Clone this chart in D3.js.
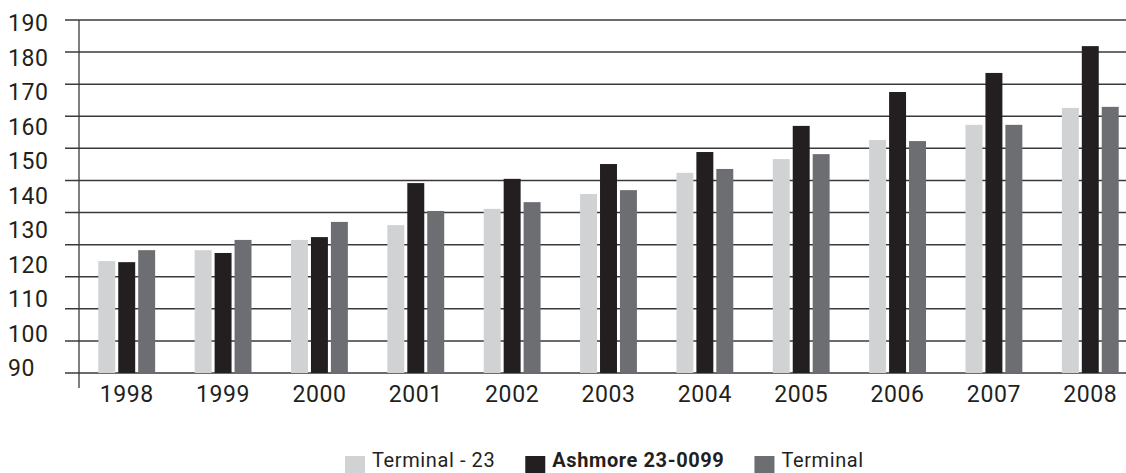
<!DOCTYPE html>
<html>
<head>
<meta charset="utf-8">
<script src="https://cdn.jsdelivr.net/npm/d3@7"></script>
<style>
  body { margin: 0; background: #fff; }
  text { font-family: Roboto, "Open Sans", sans-serif; fill: #231f20; }
</style>
</head>
<body>
<div id="graph"></div>
<script>
var years = ["1998", "1999", "2000", "2001", "2002", "2003", "2004", "2005", "2006", "2007", "2008"];
var seriesNames = ["Terminal - 23", "Ashmore 23-0099", "Terminal"];
var terminal23 = [121.7, 124.8, 127.7, 131.9, 136.5, 140.7, 146.7, 150.6, 156.0, 160.3, 165.1];
var ashmore = [121.4, 124.0, 128.5, 143.8, 145.0, 149.2, 152.6, 160.0, 169.6, 175.0, 182.6];
var terminal = [124.8, 127.7, 132.8, 135.9, 138.4, 141.8, 147.8, 152.0, 155.7, 160.3, 165.4];
var yTickLabels = ["90", "100", "110", "120", "130", "140", "150", "160", "170", "180", "190"];
var colors = ["#d1d2d4", "#231f20", "#6d6e71"];

var width = 1126, height = 473;
var svg = d3.select("div#graph").append("svg")
	.attr("width", width)
	.attr("height", height);

var seriesValues = [terminal23, ashmore, terminal];

// scales
var yScale = d3.scaleLinear().domain([90, 190]).range([373, 20]);
var gridScale = d3.scaleLinear().domain([0, 11]).range([373, 20]);
var labelScale = d3.scalePoint().domain(yTickLabels).range([368, 23]);
var x0 = d3.scaleBand().domain(years).range([85, 1132]).paddingInner(0.41).paddingOuter(0.138);
var x1 = d3.scaleBand().domain(seriesNames).range([0, x0.bandwidth()]).paddingInner(0.15);

// gridlines
svg.append("g").selectAll("line")
	.data(d3.range(12))
	.enter().append("line")
	.attr("x1", 65).attr("x2", width)
	.attr("y1", function(d) { return gridScale(d); })
	.attr("y2", function(d) { return gridScale(d); })
	.attr("stroke", "#3a3a3a")
	.attr("stroke-width", 1.5);

// vertical axis line
svg.append("line")
	.attr("x1", 79).attr("x2", 79)
	.attr("y1", 20).attr("y2", 388)
	.attr("stroke", "#3a3a3a")
	.attr("stroke-width", 1.3);

// y labels
svg.append("g").selectAll("text")
	.data(yTickLabels)
	.enter().append("text")
	.attr("x", 8)
	.attr("y", function(d) { return labelScale(d) + 8; })
	.attr("font-size", 23)
	.attr("letter-spacing", 0.6)
	.text(function(d) { return d; });

// bars
var groups = svg.append("g").selectAll("g")
	.data(years)
	.enter().append("g")
	.attr("transform", function(d) { return "translate(" + x0(d) + ",0)"; });

groups.selectAll("rect")
	.data(function(d, i) {
		return seriesNames.map(function(s, j) { return {name: s, value: seriesValues[j][i], k: j}; });
	})
	.enter().append("rect")
	.attr("x", function(d) { return x1(d.name); })
	.attr("width", x1.bandwidth())
	.attr("y", function(d) { return yScale(d.value); })
	.attr("height", function(d) { return yScale(90) - yScale(d.value); })
	.attr("fill", function(d) { return colors[d.k]; });

// x labels
svg.append("g").selectAll("text")
	.data(years)
	.enter().append("text")
	.attr("x", function(d) { return x0(d) + x0.bandwidth() / 2; })
	.attr("y", 402)
	.attr("text-anchor", "middle")
	.attr("font-size", 23)
	.attr("letter-spacing", 0.6)
	.text(function(d) { return d; });

// legend
var legend = svg.append("g");
var lx = 345;
seriesNames.forEach(function(s, i) {
	legend.append("rect")
		.attr("x", lx).attr("y", 456)
		.attr("width", 20).attr("height", 17)
		.attr("fill", colors[i]);
	var t = legend.append("text")
		.attr("x", lx + 27).attr("y", 467)
		.attr("font-size", 20)
		.attr("letter-spacing", 0.6)
		.attr("font-weight", i == 1 ? "bold" : "normal")
		.text(s);
	lx += 27 + t.node().getComputedTextLength() + 30;
});
</script>
</body>
</html>
